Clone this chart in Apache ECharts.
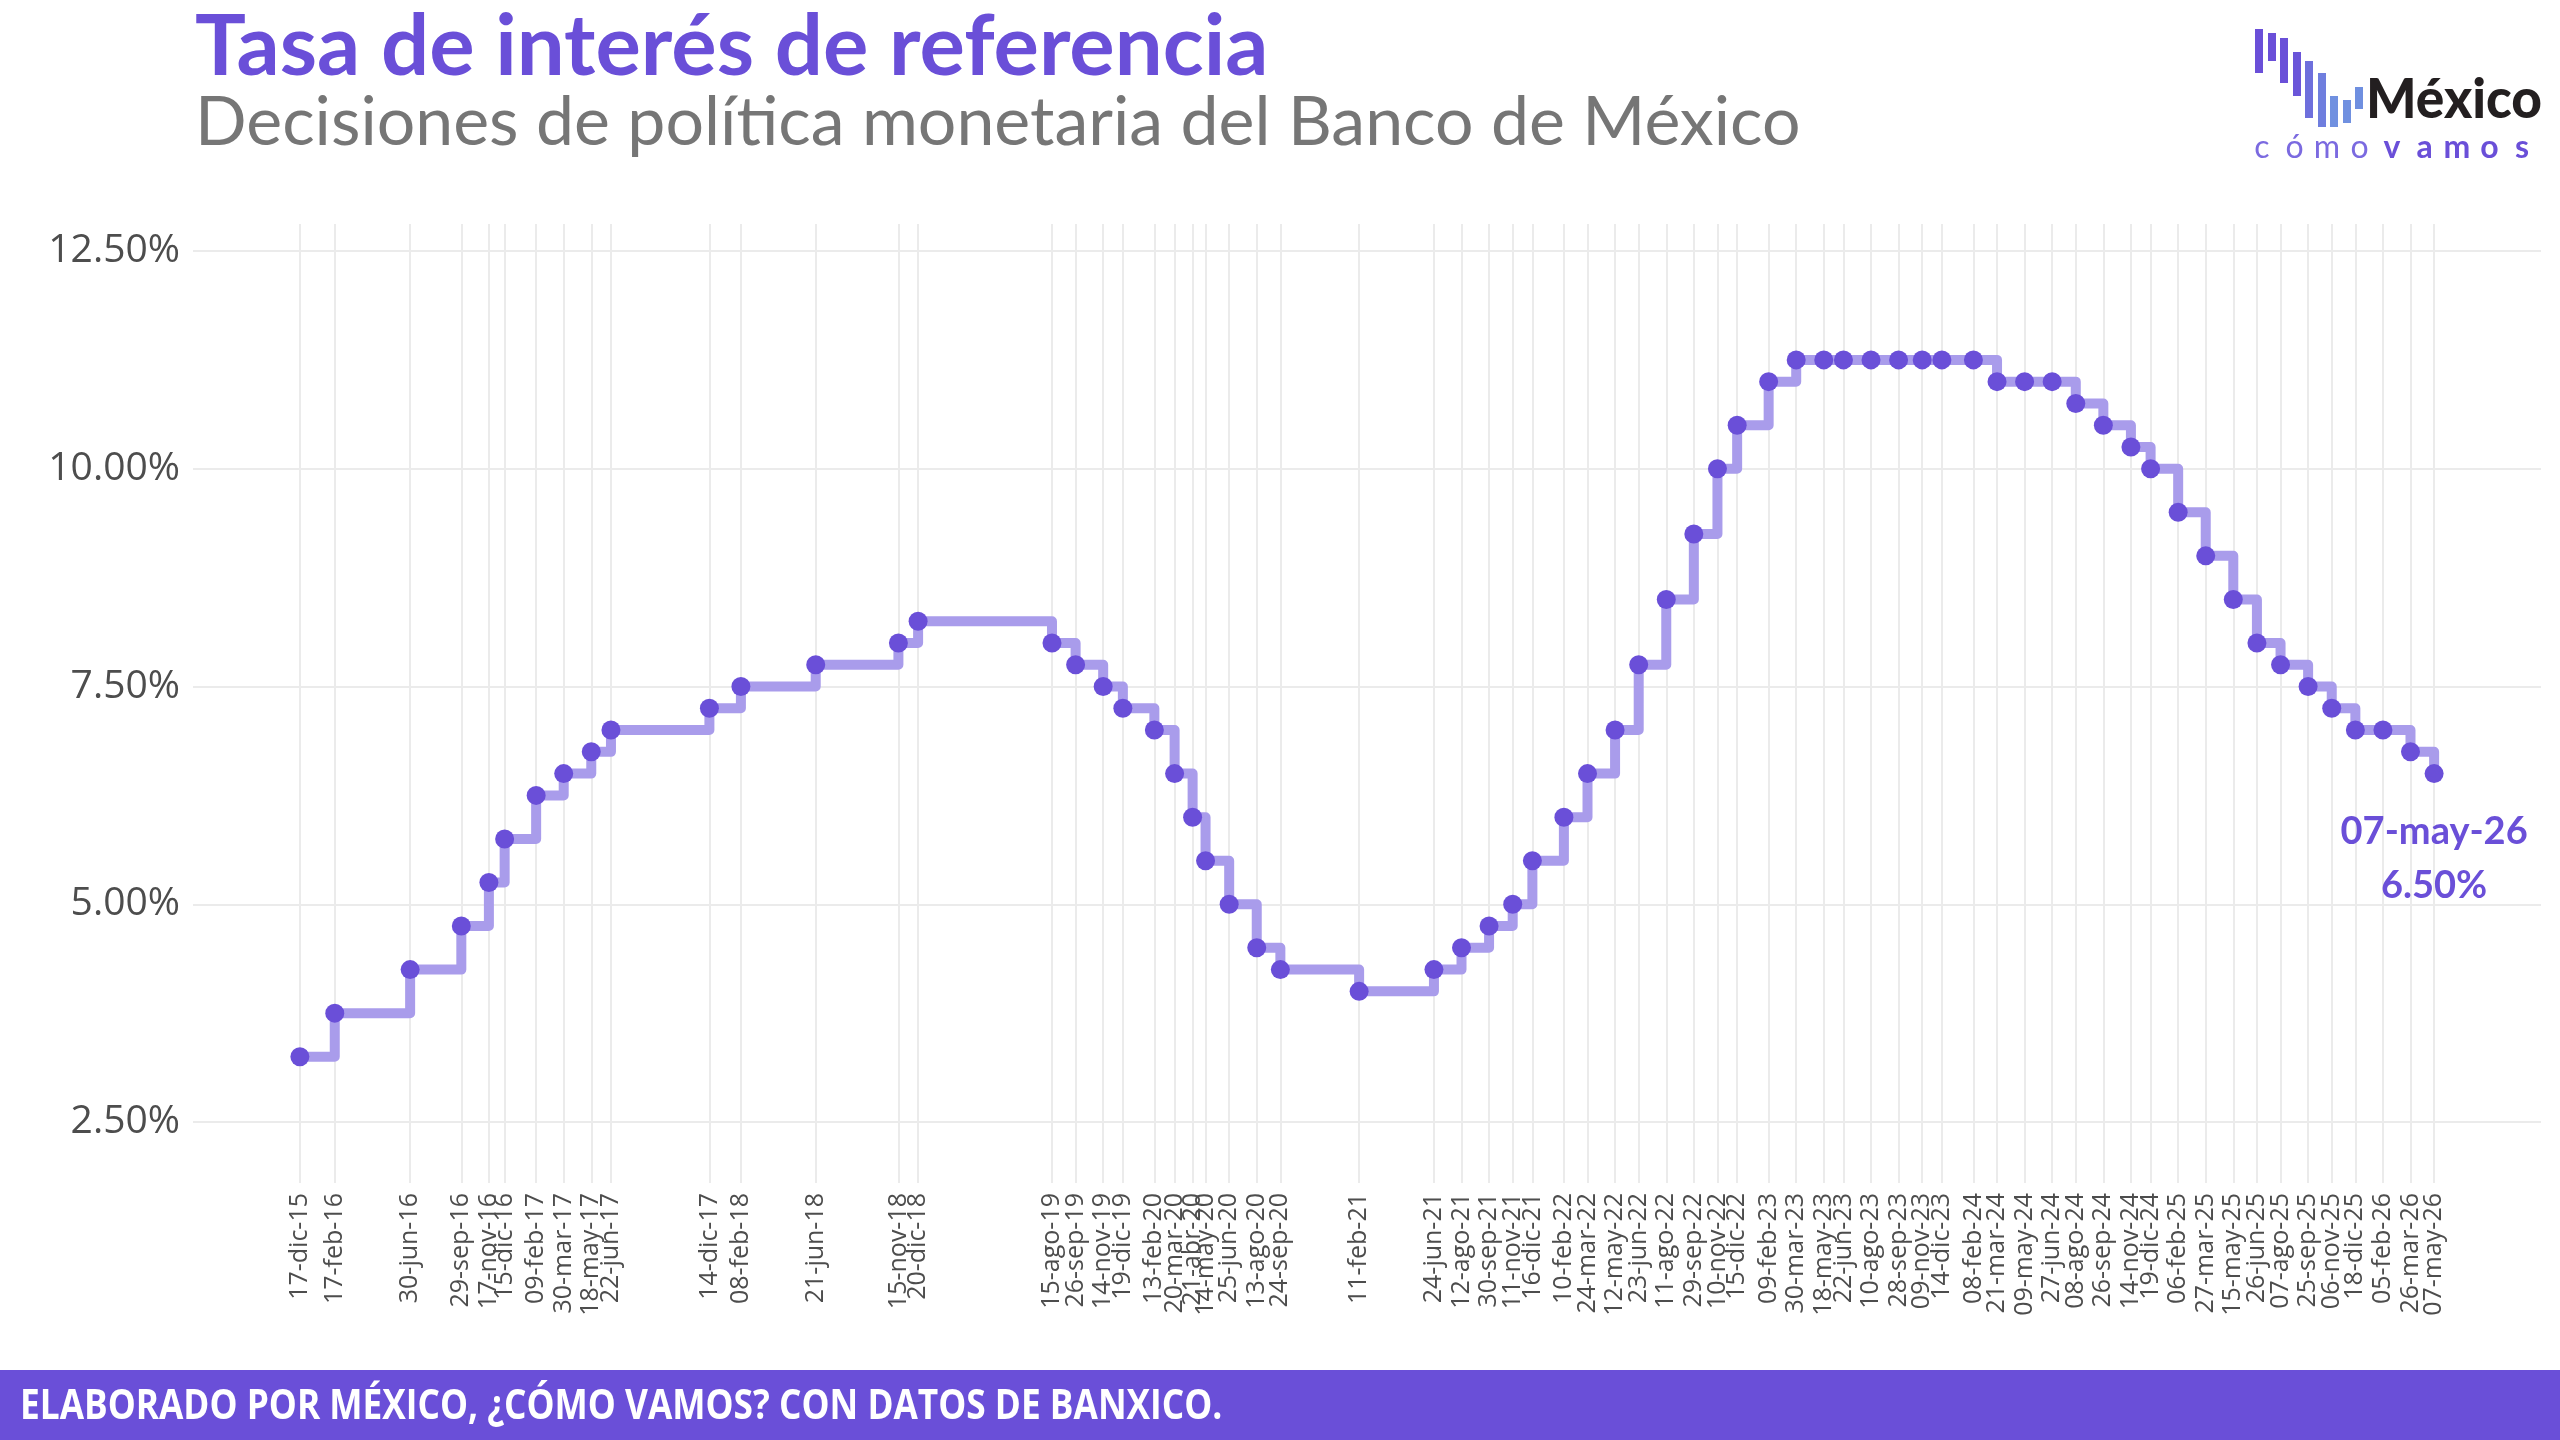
<!DOCTYPE html>
<html>
<head>
<meta charset="utf-8">
<title>Tasa de interés de referencia</title>
<script src="https://cdn.jsdelivr.net/npm/echarts@6/dist/echarts.min.js"></script>
<style>
  html, body { margin: 0; padding: 0; background: #fff; }
  #chart { width: 2560px; height: 1440px; }
</style>
</head>
<body>
<div id="chart"></div>
<script>
// fechas de decisión de política monetaria
const dates = [
  '2015-12-17', '2016-02-17', '2016-06-30', '2016-09-29', '2016-11-17', '2016-12-15',
  '2017-02-09', '2017-03-30', '2017-05-18', '2017-06-22', '2017-12-14', '2018-02-08',
  '2018-06-21', '2018-11-15', '2018-12-20', '2019-08-15', '2019-09-26', '2019-11-14',
  '2019-12-19', '2020-02-13', '2020-03-20', '2020-04-21', '2020-05-14', '2020-06-25',
  '2020-08-13', '2020-09-24', '2021-02-11', '2021-06-24', '2021-08-12', '2021-09-30',
  '2021-11-11', '2021-12-16', '2022-02-10', '2022-03-24', '2022-05-12', '2022-06-23',
  '2022-08-11', '2022-09-29', '2022-11-10', '2022-12-15', '2023-02-09', '2023-03-30',
  '2023-05-18', '2023-06-22', '2023-08-10', '2023-09-28', '2023-11-09', '2023-12-14',
  '2024-02-08', '2024-03-21', '2024-05-09', '2024-06-27', '2024-08-08', '2024-09-26',
  '2024-11-14', '2024-12-19', '2025-02-06', '2025-03-27', '2025-05-15', '2025-06-26',
  '2025-08-07', '2025-09-25', '2025-11-06', '2025-12-18', '2026-02-05', '2026-03-26',
  '2026-05-07'
]

// tasa objetivo (%)
const rates = [
  3.25, 3.75, 4.25, 4.75, 5.25, 5.75,
  6.25, 6.50, 6.75, 7.00, 7.25, 7.50,
  7.75, 8.00, 8.25, 8.00, 7.75, 7.50,
  7.25, 7.00, 6.50, 6.00, 5.50, 5.00,
  4.50, 4.25, 4.00, 4.25, 4.50, 4.75,
  5.00, 5.50, 6.00, 6.50, 7.00, 7.75,
  8.50, 9.25, 10.00, 10.50, 11.00, 11.25,
  11.25, 11.25, 11.25, 11.25, 11.25, 11.25,
  11.25, 11.00, 11.00, 11.00, 10.75, 10.50,
  10.25, 10.00, 9.50, 9.00, 8.50, 8.00,
  7.75, 7.50, 7.25, 7.00, 7.00, 6.75,
  6.50
]

const yTicks = [2.5, 5, 7.5, 10, 12.5]
const monthNames = ['ene', 'feb', 'mar', 'abr', 'may', 'jun', 'jul', 'ago', 'sep', 'oct', 'nov', 'dic']

const PURPLE = '#6a4fd8'
const LINE_PURPLE = '#a99ceb'
const DAY = 24 * 3600 * 1000

const toTime = s => {
  const [y, m, d] = s.split('-').map(Number)
  return Date.UTC(y, m - 1, d)
}
const pad = n => (n < 10 ? '0' : '') + n
const fmtDate = t => {
  const d = new Date(t)
  return pad(d.getUTCDate()) + '-' + monthNames[d.getUTCMonth()] + '-' + pad(d.getUTCFullYear() % 100)
}

const times = dates.map(toTime)
const lastIdx = times.length - 1
const xMin = times[0] - 190 * DAY
const xMax = times[lastIdx] + 190 * DAY

const seriesData = times.map((t, i) => {
  const item = { value: [t, rates[i]] }
  if (i === lastIdx) {
    item.label = {
      show: true,
      position: 'bottom',
      distance: 22,
      formatter: fmtDate(t) + '\n' + rates[i].toFixed(2) + '%',
      color: PURPLE,
      fontFamily: 'Lato',
      fontWeight: 'bold',
      fontSize: 38,
      lineHeight: 54,
      align: 'center'
    }
  }
  return item
})

// logo (decorativo)
const logoBars = [
  [2255, 29, 44, '#6a4fd8'], [2268, 33, 28, '#6a4fd8'], [2280, 38, 45, '#6a50d8'],
  [2293, 52, 44, '#6a55d9'], [2305, 61, 57, '#6e6fdc'], [2318, 73, 54, '#6f7ede'],
  [2330, 96, 31, '#7090e0'], [2343, 100, 23, '#7090e0'], [2355, 87, 22, '#6f8fe0']
]
const logoLetters = 'cómovamos'.split('')
const logoGraphics = logoBars.map(b => ({
  type: 'rect',
  shape: { x: b[0], y: b[1], width: 8, height: b[2] },
  style: { fill: b[3] }
}))
logoGraphics.push({
  type: 'text', x: 2366, y: 128,
  style: { text: 'México', fill: '#231f20', font: '900 56px Lato', textVerticalAlign: 'bottom' },
  scaleX: 0.95
})
logoLetters.forEach((ch, i) => {
  logoGraphics.push({
    type: 'text', x: 2262 + i * 32.5, y: 148,
    style: {
      text: ch, fill: i < 4 ? '#7b6ae0' : PURPLE,
      font: (i < 4 ? 'normal ' : 'bold ') + '32px Lato',
      textAlign: 'center', textVerticalAlign: 'middle'
    }
  })
})

const dateLabel = {
  formatter: v => fmtDate(v),
  rotate: 90,
  margin: 10,
  hideOverlap: false,
  showMinLabel: true,
  showMaxLabel: true,
  color: '#4d4d4d',
  fontSize: 25,
  fontFamily: 'Open Sans'
}

const chart = echarts.init(document.getElementById('chart'))

chart.setOption({
  backgroundColor: '#ffffff',
  animation: false,
  title: [
    {
      text: 'Tasa de interés de referencia',
      left: 190, top: 0,
      textStyle: { color: PURPLE, fontSize: 85, fontWeight: 'bold', fontFamily: 'Lato' }
    },
    {
      text: 'Decisiones de política monetaria del Banco de México',
      left: 190, top: 84,
      textStyle: { color: '#767676', fontSize: 68, fontWeight: 'normal', fontFamily: 'Lato' }
    }
  ],
  grid: { left: 193, right: 19, top: 224, bottom: 257 },
  xAxis: [
    {
      type: 'value',
      min: xMin,
      max: xMax,
      axisLine: { show: false },
      axisTick: { show: false, customValues: times },
      splitLine: { show: true, lineStyle: { color: '#ebebeb', width: 2 } },
      axisLabel: Object.assign({ customValues: times.slice(0, lastIdx) }, dateLabel)
    },
    {
      // eje auxiliar solo para la etiqueta de la última fecha
      type: 'value',
      position: 'bottom',
      offset: 0,
      min: xMin,
      max: xMax,
      axisLine: { show: false },
      axisTick: { show: false },
      splitLine: { show: false },
      axisLabel: Object.assign({ customValues: times.slice(lastIdx) }, dateLabel)
    }
  ],
  yAxis: {
    type: 'value',
    min: 1.8,
    max: 12.81,
    axisLine: { show: false },
    axisTick: { show: false, customValues: yTicks },
    splitLine: { show: true, lineStyle: { color: '#ebebeb', width: 2 } },
    axisLabel: {
      customValues: yTicks,
      formatter: v => v.toFixed(2) + '%',
      margin: 13,
      color: '#4d4d4d',
      fontSize: 39,
      fontFamily: 'Open Sans'
    }
  },
  series: [
    {
      type: 'line',
      step: 'end',
      xAxisIndex: 0,
      data: seriesData,
      symbol: 'circle',
      symbolSize: 19,
      lineStyle: { color: LINE_PURPLE, width: 10, cap: 'round', join: 'round' },
      itemStyle: { color: PURPLE },
      emphasis: { disabled: true },
      z: 3
    }
  ],
  graphic: [
    {
      type: 'rect',
      shape: { x: 0, y: 1370, width: 2560, height: 70 },
      style: { fill: PURPLE }
    },
    {
      type: 'text', x: 20, y: 1407,
      scaleX: 0.86,
      style: {
        text: 'ELABORADO POR MÉXICO, ¿CÓMO VAMOS? CON DATOS DE BANXICO.',
        fill: '#ffffff',
        font: 'bold 41px "Open Sans", sans-serif',
        textVerticalAlign: 'middle'
      }
    },
    ...logoGraphics
  ]
})
</script>
</body>
</html>
